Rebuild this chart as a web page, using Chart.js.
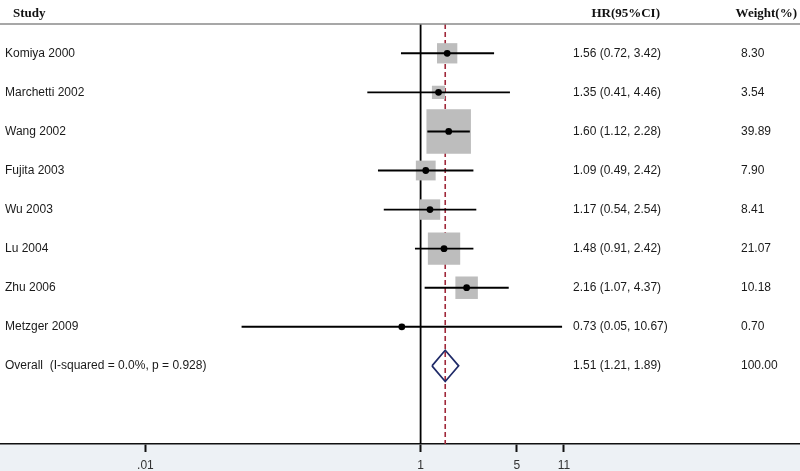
<!DOCTYPE html>
<html>
<head>
<meta charset="utf-8">
<script src="https://cdn.jsdelivr.net/npm/chart.js@4.4.1/dist/chart.umd.min.js"></script>
<style>
  html, body { margin: 0; padding: 0; background: #ffffff; }
  #wrap { width: 800px; height: 471px; position: relative; }
</style>
</head>
<body>
<div id="wrap"><canvas id="c" width="800" height="471"></canvas></div>
<script>
// ---- data ----
const studies = ["Komiya 2000", "Marchetti 2002", "Wang 2002", "Fujita 2003", "Wu 2003", "Lu 2004", "Zhu 2006", "Metzger 2009"];
const hr      = [1.56, 1.35, 1.60, 1.09, 1.17, 1.48, 2.16, 0.73];
const ciLow   = [0.72, 0.41, 1.12, 0.49, 0.54, 0.91, 1.07, 0.05];
const ciHigh  = [3.42, 4.46, 2.28, 2.42, 2.54, 2.42, 4.37, 10.67];
const weights = [8.30, 3.54, 39.89, 7.90, 8.41, 21.07, 10.18, 0.70];
const overallLabel = "Overall  (I-squared = 0.0%, p = 0.928)";
const overallHR = 1.51, overallLow = 1.21, overallHigh = 1.89, overallWeight = 100.00;
const tickValues = [0.01, 1, 5, 11];
const tickLabels = [".01", "1", "5", "11"];
const headers = ["Study", "HR(95%CI)", "Weight(%)"];

const fmt2 = v => v.toFixed(2);
const hrText = studies.map((s, i) => `${fmt2(hr[i])} (${fmt2(ciLow[i])}, ${fmt2(ciHigh[i])})`);
const overallRow = studies.length;

// scale ranges (layout)
const Y_MIN = -0.75, Y_MAX = 10;
const X_MIN = Math.pow(10, -3.0567), X_MAX = Math.pow(10, 2.7573);
const maxBoxSide = 44.5;

const datasets = [];
// reference line at 1
datasets.push({ data: [{x: 1, y: Y_MIN}, {x: 1, y: Y_MAX}], showLine: true, borderColor: '#000', borderWidth: 1.8, pointRadius: 0, order: 5 });
// overall dashed line
datasets.push({ data: [{x: overallHR, y: Y_MIN}, {x: overallHR, y: Y_MAX}], showLine: true, borderColor: '#a0283a', borderWidth: 1.6, borderDash: [5, 3], pointRadius: 0, order: 6 });
// weight boxes
datasets.push({
  data: studies.map((s, i) => ({x: hr[i], y: i})),
  pointStyle: 'rect',
  pointRadius: weights.map(w => maxBoxSide * Math.sqrt(w / Math.max(...weights)) / (2 * Math.SQRT1_2)),
  backgroundColor: '#bdbdbd', borderWidth: 0, pointBorderWidth: 0, showLine: false, order: 4
});
// CI lines
studies.forEach((s, i) => {
  datasets.push({ data: [{x: ciLow[i], y: i}, {x: ciHigh[i], y: i}], showLine: true, borderColor: '#000', borderWidth: 1.9, pointRadius: 0, order: 3 });
});
// point estimates
datasets.push({ data: studies.map((s, i) => ({x: hr[i], y: i})), pointStyle: 'circle', pointRadius: 3.4, backgroundColor: '#000', borderColor: '#000', borderWidth: 0, showLine: false, order: 2 });
// overall diamond
const dh = 0.4;
datasets.push({
  data: [{x: overallLow, y: overallRow}, {x: overallHR, y: overallRow - dh}, {x: overallHigh, y: overallRow}, {x: overallHR, y: overallRow + dh}, {x: overallLow, y: overallRow}],
  showLine: true, borderColor: '#1f2a68', borderWidth: 1.7, pointRadius: 0, fill: false, tension: 0, order: 1
});

const textPlugin = {
  id: 'forestText',
  beforeDraw(chart) {
    const ctx = chart.ctx, area = chart.chartArea;
    ctx.save();
    ctx.fillStyle = '#edf1f5';
    ctx.fillRect(0, area.bottom, chart.width, chart.height - area.bottom);
    ctx.restore();
  },
  afterDraw(chart) {
    const ctx = chart.ctx, ys = chart.scales.y, area = chart.chartArea;
    ctx.save();
    // header line
    ctx.strokeStyle = '#8a8a8a'; ctx.lineWidth = 1.5;
    ctx.beginPath(); ctx.moveTo(0, area.top); ctx.lineTo(chart.width, area.top); ctx.stroke();
    // headers
    ctx.fillStyle = '#111';
    ctx.font = 'bold 13px "Liberation Serif", "Times New Roman", serif';
    ctx.textBaseline = 'middle';
    ctx.textAlign = 'left'; ctx.fillText(headers[0], 13, 14);
    ctx.textAlign = 'right'; ctx.fillText(headers[1], 660, 14);
    ctx.fillText(headers[2], 797, 14);
    // rows
    ctx.font = '12px "Liberation Sans", Arial, sans-serif';
    ctx.fillStyle = '#1a1a1a';
    studies.forEach((s, i) => {
      const y = ys.getPixelForValue(i);
      ctx.textAlign = 'left';
      ctx.fillText(s, 5, y);
      ctx.fillText(hrText[i], 573, y);
      ctx.fillText(fmt2(weights[i]), 741, y);
    });
    const yo = ys.getPixelForValue(overallRow);
    ctx.fillText(overallLabel, 5, yo);
    ctx.fillText(`${fmt2(overallHR)} (${fmt2(overallLow)}, ${fmt2(overallHigh)})`, 573, yo);
    ctx.fillText(fmt2(overallWeight), 741, yo);
    ctx.restore();
  }
};

new Chart(document.getElementById('c'), {
  type: 'scatter',
  data: { datasets },
  options: {
    responsive: false,
    animation: false,
    events: [],
    layout: { autoPadding: false, padding: { top: 24, left: 0, right: 0, bottom: 0 } },
    plugins: { legend: { display: false }, tooltip: { enabled: false } },
    scales: {
      x: {
        type: 'logarithmic', min: X_MIN, max: X_MAX,
        afterBuildTicks: s => { s.ticks = tickValues.map(v => ({ value: v })); },
        afterFit: s => { s.height = 27; },
        ticks: {
          autoSkip: false, maxRotation: 0, padding: 6,
          color: '#333', font: { family: '"Liberation Sans", Arial, sans-serif', size: 12 },
          callback: (v, i) => tickLabels[i]
        },
        grid: { drawOnChartArea: false, drawTicks: true, tickLength: 8, tickWidth: 2, tickColor: '#111' },
        border: { display: true, color: '#111', width: 1.6 }
      },
      y: {
        type: 'linear', reverse: true, min: Y_MIN, max: Y_MAX, display: false
      }
    }
  },
  plugins: [textPlugin]
});
</script>
</body>
</html>
